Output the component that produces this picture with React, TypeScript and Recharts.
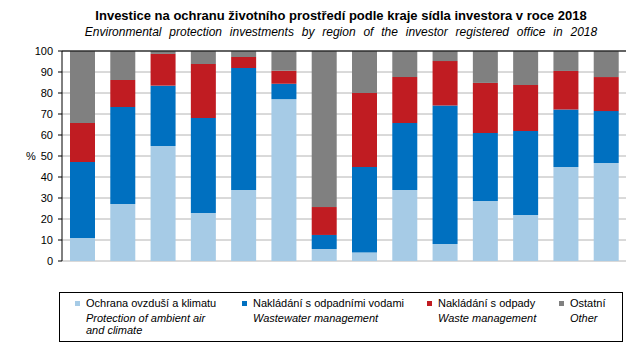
import React from 'react';
import {
  BarChart,
  Bar,
  XAxis,
  YAxis,
  CartesianGrid,
  ReferenceLine,
} from 'recharts';

const regions = ['PHA', 'STC', 'JHC', 'PLK', 'KVK', 'ULK', 'LBK', 'HKK', 'PAK', 'VYS', 'JHM', 'OLK', 'ZLK', 'MSK'];
const air = [11.0, 27.1, 54.8, 22.9, 33.8, 77.1, 5.7, 4.0, 33.8, 8.1, 28.6, 21.9, 44.8, 46.7];
const wastewater = [36.1, 46.2, 28.7, 45.2, 58.1, 7.3, 6.7, 40.8, 31.9, 65.9, 32.4, 40.0, 27.3, 24.7];
const waste = [18.6, 12.9, 15.1, 25.7, 5.2, 6.2, 13.3, 35.2, 21.9, 21.2, 23.8, 21.9, 18.4, 16.2];
const other = [34.3, 13.8, 1.4, 6.2, 2.9, 9.4, 74.3, 20.0, 12.4, 4.8, 15.2, 16.2, 9.5, 12.4];

const yTicks = [0, 10, 20, 30, 40, 50, 60, 70, 80, 90, 100];
const seriesKeys = ['air', 'wastewater', 'waste', 'other'];
const seriesColors = ['#a6cbe6', '#0070c0', '#c01c22', '#808080'];
const legendCz = ['Ochrana ovzduší a klimatu', 'Nakládání s odpadními vodami', 'Nakládání s odpady', 'Ostatní'];
const legendEn = ['Protection of ambient air\nand climate', 'Wastewater management', 'Waste management', 'Other'];

const titleCz = 'Investice na ochranu životního prostředí podle kraje sídla investora v roce 2018';
const titleEn = 'Environmental protection investments by region of the investor registered office in 2018';

const data = regions.map((name, i) => ({
  name,
  air: air[i],
  wastewater: wastewater[i],
  waste: waste[i],
  other: other[i],
}));

// boundaries between categories, drawn by a hidden numeric axis
const boundaryTicks = [...regions.map((_, i) => i), regions.length];

const font = '"Liberation Sans", Arial, sans-serif';
const legendX = [15, 182, 367, 499];

export default function App() {
  return (
    <div style={{ position: 'absolute', left: 0, top: 0, width: 643, height: 355, background: '#fff', fontFamily: font }}>
      <div
        style={{
          position: 'absolute', left: 41, top: 8, width: 600, textAlign: 'center',
          fontWeight: 'bold', fontSize: 13, lineHeight: '15px', whiteSpace: 'nowrap',
        }}
      >
        {titleCz}
      </div>
      <div
        style={{
          position: 'absolute', left: 41, top: 25, width: 600, textAlign: 'center',
          fontStyle: 'italic', fontSize: 12, lineHeight: '14px', whiteSpace: 'nowrap', wordSpacing: 4.5,
        }}
      >
        {titleEn}
      </div>

      <BarChart
        width={643}
        height={355}
        data={data}
        margin={{ top: 51, right: 17, bottom: 94, left: 0 }}
        barSize={25}
        style={{ position: 'absolute', left: 0, top: 0 }}
      >
        <CartesianGrid vertical={false} stroke="#b4b4b4" />
        <XAxis
          xAxisId="b"
          type="number"
          domain={[0, regions.length]}
          ticks={boundaryTicks}
          tick={false}
          tickSize={4}
          height={0}
          axisLine={{ stroke: '#000' }}
          tickLine={{ stroke: '#000' }}
        />
        <XAxis
          dataKey="name"
          height={0}
          axisLine={false}
          tickLine={false}
          tickMargin={3}
          interval={0}
          tick={{ fontSize: 11, fill: '#000', fontFamily: font, letterSpacing: 1 }}
        />
        <YAxis
          width={62}
          domain={[0, 100]}
          ticks={yTicks}
          interval={0}
          tickSize={4}
          tickMargin={5}
          axisLine={{ stroke: '#000' }}
          tickLine={{ stroke: '#000' }}
          tick={{ fontSize: 11, fill: '#000', fontFamily: font }}
          label={{ value: '%', position: 'center', fontSize: 11, fill: '#000', fontFamily: font }}
        />
        {seriesKeys.map((key, i) => (
          <Bar key={key} dataKey={key} stackId="a" fill={seriesColors[i]} isAnimationActive={false} />
        ))}
        <ReferenceLine y={100} stroke="#000" />
        <ReferenceLine xAxisId="b" x={regions.length} stroke="#000" />
      </BarChart>

      <div
        style={{
          position: 'absolute', left: 59, top: 292, width: 564, height: 50,
          border: '1px solid #000', boxSizing: 'border-box',
        }}
      >
        {legendCz.map((label, i) => (
          <div key={label} style={{ position: 'absolute', left: legendX[i], top: 0 }}>
            <div style={{ position: 'absolute', left: 0, top: 8, width: 5, height: 5, background: seriesColors[i] }} />
            <div style={{ position: 'absolute', left: 11, top: 4, fontSize: 11, lineHeight: '12px', whiteSpace: 'nowrap' }}>
              {label}
            </div>
            <div
              style={{
                position: 'absolute', left: 11, top: 19, fontSize: 11, lineHeight: '12px',
                fontStyle: 'italic', whiteSpace: 'pre',
              }}
            >
              {legendEn[i]}
            </div>
          </div>
        ))}
      </div>
    </div>
  );
}
